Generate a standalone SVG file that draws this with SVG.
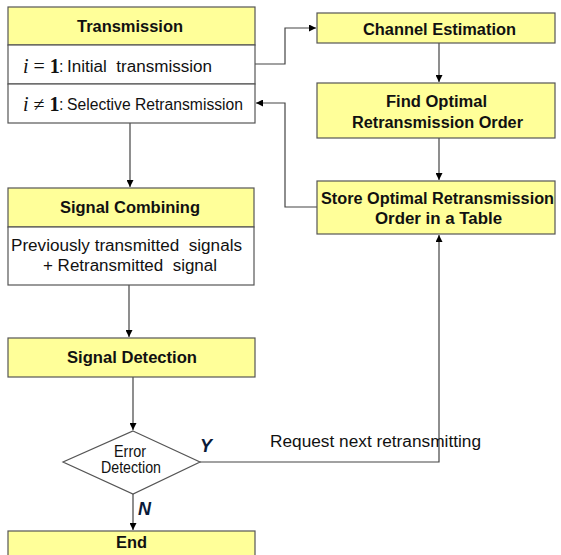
<svg xmlns="http://www.w3.org/2000/svg" width="561" height="555" viewBox="0 0 561 555">
<defs>
<marker id="arr" viewBox="0 0 10 10" refX="10" refY="5" markerWidth="7" markerHeight="7" markerUnits="userSpaceOnUse" orient="auto">
<path d="M0,0 L10,5 L0,10 z" fill="#000"/>
</marker>
</defs>
<style>
.hd{fill:#FFFF99;stroke:#555;stroke-width:1.2}
.bd{fill:#fff;stroke:#555;stroke-width:1.2}
.t{font-family:"Liberation Sans",Arial,sans-serif;font-size:16px;fill:#111}
.b{font-weight:bold;font-size:16px}
.m{font-family:"Liberation Serif","Times New Roman",serif;font-size:20px;fill:#111}
.c{fill:none;stroke:#444;stroke-width:1.2}
.yn{font-family:"Liberation Sans",Arial,sans-serif;font-size:18px;font-weight:bold;font-style:italic;fill:#0a1a3a}
</style>
<g id="connectors">
<path class="c" d="M130,123 V187" marker-end="url(#arr)"/>
<path class="c" d="M129,285 V337" marker-end="url(#arr)"/>
<path class="c" d="M133,377 V430" marker-end="url(#arr)"/>
<path class="c" d="M133,494 V530" marker-end="url(#arr)"/>
<path class="c" d="M200,462 H439 V235" marker-end="url(#arr)"/>
<path class="c" d="M255,64 H285 V28 H316" marker-end="url(#arr)"/>
<path class="c" d="M439,43 V82" marker-end="url(#arr)"/>
<path class="c" d="M439,138 V180" marker-end="url(#arr)"/>
<path class="c" d="M317,207 H285 V103 H256" marker-end="url(#arr)"/>
</g>
<g id="transmission">
<rect class="hd" x="8" y="7" width="247" height="38"/>
<rect class="bd" x="8" y="45" width="247" height="39"/>
<rect class="bd" x="8" y="84" width="247" height="39"/>
<text class="t b" x="77" y="32" textLength="106" lengthAdjust="spacingAndGlyphs">Transmission</text>
<text class="m" x="23" y="73"><tspan font-style="italic">i</tspan> = <tspan font-weight="bold">1</tspan><tspan class="t" x="59" y="72">:</tspan></text>
<text class="t" x="67" y="72" textLength="145" lengthAdjust="spacingAndGlyphs" xml:space="preserve">Initial  transmission</text>
<text class="m" x="23" y="111"><tspan font-style="italic">i</tspan> ≠ <tspan font-weight="bold">1</tspan><tspan class="t" x="59" y="110">:</tspan></text>
<text class="t" x="67" y="110" textLength="176" lengthAdjust="spacingAndGlyphs" font-size="14.5px">Selective Retransmission</text>
</g>
<g id="combining">
<rect class="hd" x="8" y="188" width="246" height="39"/>
<rect class="bd" x="8" y="227" width="246" height="58"/>
<text class="t b" x="60" y="213" textLength="140" lengthAdjust="spacingAndGlyphs">Signal Combining</text>
<text class="t" x="11" y="251" textLength="231" lengthAdjust="spacingAndGlyphs" xml:space="preserve">Previously transmitted  signals</text>
<text class="t" x="43" y="271" textLength="174" lengthAdjust="spacingAndGlyphs" xml:space="preserve">+ Retransmitted  signal</text>
</g>
<g id="detection">
<rect class="hd" x="8" y="338" width="247" height="39"/>
<text class="t b" x="67" y="363" textLength="130" lengthAdjust="spacingAndGlyphs">Signal Detection</text>
</g>
<g id="error">
<path class="bd" d="M133,431 L200,462 L133,494 L63,462 Z"/>
<text class="t" font-size="13.5px" x="114" y="457" textLength="32" lengthAdjust="spacingAndGlyphs">Error</text>
<text class="t" font-size="13.5px" x="101" y="473" textLength="60" lengthAdjust="spacingAndGlyphs">Detection</text>
<text class="yn" x="200" y="452">Y</text>
<text class="yn" x="138" y="515">N</text>
<text class="t" x="270" y="447" textLength="211" lengthAdjust="spacingAndGlyphs">Request next retransmitting</text>
</g>
<g id="end">
<rect class="hd" x="8" y="531" width="247" height="30"/>
<text class="t b" x="116" y="548" textLength="31" lengthAdjust="spacingAndGlyphs">End</text>
</g>
<g id="channel">
<rect class="hd" x="317" y="13" width="238" height="30"/>
<text class="t b" x="363" y="35" textLength="153" lengthAdjust="spacingAndGlyphs">Channel Estimation</text>
</g>
<g id="find">
<rect class="hd" x="317" y="83" width="238" height="55"/>
<text class="t b" x="386" y="107" textLength="101" lengthAdjust="spacingAndGlyphs">Find Optimal</text>
<text class="t b" x="352" y="128" textLength="171" lengthAdjust="spacingAndGlyphs">Retransmission Order</text>
</g>
<g id="store">
<rect class="hd" x="317" y="181" width="238" height="53"/>
<text class="t b" x="321" y="204" textLength="233" lengthAdjust="spacingAndGlyphs">Store Optimal Retransmission</text>
<text class="t b" x="375" y="224" textLength="127" lengthAdjust="spacingAndGlyphs">Order in a Table</text>
</g>
</svg>
